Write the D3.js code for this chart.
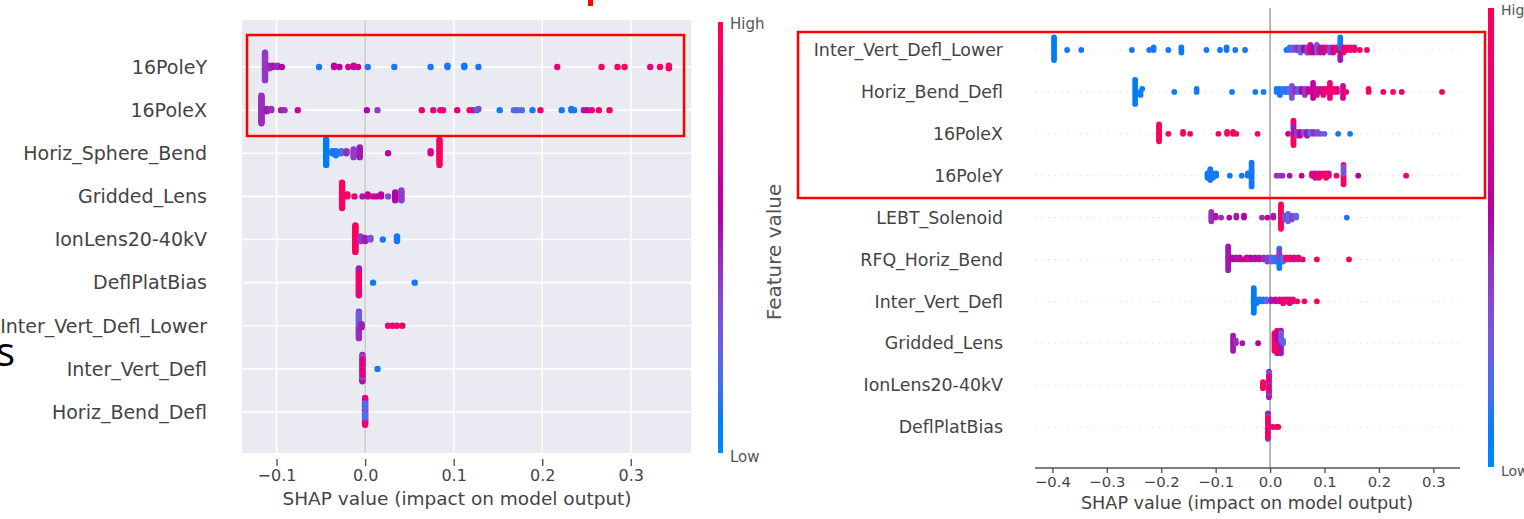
<!DOCTYPE html>
<html>
<head>
<meta charset="utf-8">
<script src="https://cdn.jsdelivr.net/npm/d3@7"></script>
<style>
  body { margin: 0; background: #fff; }
  svg { display: block; font-family: "DejaVu Sans", sans-serif; }
</style>
</head>
<body>
<div id="graf"></div>
<script>
// Datos: cada punto es [valor SHAP, valor de la variable (0 = bajo, 1 = alto), cantidad]

// ---- grafico izquierdo ----
const featuresIzq = ["16PoleY", "16PoleX", "Horiz_Sphere_Bend", "Gridded_Lens", "IonLens20-40kV",
                     "DeflPlatBias", "Inter_Vert_Defl_Lower", "Inter_Vert_Defl", "Horiz_Bend_Defl"]
const ticksIzq = [-0.1, 0.0, 0.1, 0.2, 0.3]

const izq16PoleY = [
  [-0.113, 0.42, 24], [-0.108, 0.45, 3], [-0.104, 0.5, 2], [-0.099, 0.45, 2], [-0.094, 0.55, 1],
  [-0.052, 0.1, 1], [-0.035, 0.6, 2], [-0.029, 0.55, 1], [-0.019, 0.7, 1], [-0.013, 0.65, 2],
  [-0.008, 0.7, 1], [0.003, 0.1, 1], [0.033, 0.1, 1], [0.074, 0.1, 1], [0.093, 0.1, 2],
  [0.112, 0.08, 2], [0.128, 0.1, 1], [0.217, 0.8, 1], [0.267, 0.95, 1], [0.285, 0.9, 1],
  [0.293, 0.95, 1], [0.322, 0.8, 1], [0.333, 0.9, 1], [0.343, 0.95, 3]
]
const izq16PoleX = [
  [-0.117, 0.45, 24], [-0.111, 0.5, 3], [-0.106, 0.45, 2], [-0.095, 0.5, 1], [-0.091, 0.45, 1],
  [-0.076, 0.65, 1], [0.002, 0.6, 1], [0.014, 0.4, 1], [0.064, 0.85, 1], [0.077, 0.8, 1],
  [0.085, 0.75, 1], [0.088, 0.9, 1], [0.104, 0.75, 1], [0.118, 0.9, 1], [0.122, 0.8, 1],
  [0.126, 0.1, 1], [0.128, 0.35, 1], [0.152, 0.1, 1], [0.168, 0.15, 1], [0.172, 0.3, 1],
  [0.177, 0.15, 1], [0.189, 0.1, 1], [0.198, 0.9, 1], [0.222, 0.1, 1], [0.233, 0.1, 2],
  [0.236, 0.1, 1], [0.247, 0.5, 1], [0.251, 0.65, 1], [0.256, 0.75, 1], [0.264, 0.9, 1],
  [0.276, 0.95, 1]
]
const izqHorizSphereBend = [
  [-0.044, 0.08, 14], [-0.037, 0.1, 2], [-0.033, 0.1, 3], [-0.027, 0.15, 2], [-0.021, 0.45, 2],
  [-0.013, 0.4, 5], [-0.006, 0.5, 6], [0.026, 0.6, 1], [0.074, 0.75, 2], [0.084, 0.92, 14]
]
const izqGriddedLens = [
  [-0.026, 0.95, 14], [-0.02, 0.9, 2], [-0.012, 0.85, 1], [-0.003, 0.5, 1], [0.003, 0.65, 2],
  [0.009, 0.7, 1], [0.013, 0.6, 1], [0.018, 0.6, 2], [0.026, 0.35, 1], [0.034, 0.55, 5],
  [0.041, 0.4, 6]
]
const izqIonLens = [
  [-0.011, 0.95, 18], [-0.005, 0.4, 4], [0.0, 0.5, 3], [0.006, 0.3, 2], [0.02, 0.1, 1], [0.036, 0.1, 4]
]
const izqDeflPlatBias = [
  [-0.007, 0.8, 8], [-0.007, 0.5, 8], [-0.007, 0.95, 4], [0.009, 0.1, 1], [0.056, 0.1, 1]
]
const izqInterVertDeflLower = [
  [-0.007, 0.45, 10], [-0.007, 0.25, 8], [-0.004, 0.5, 3], [0.026, 0.9, 1], [0.031, 0.85, 1],
  [0.036, 0.9, 1], [0.042, 0.95, 1]
]
const izqInterVertDefl = [
  [-0.003, 0.5, 8], [-0.003, 0.3, 6], [-0.003, 0.8, 4], [0.014, 0.1, 1]
]
const izqHorizBendDefl = [
  [0.0, 0.9, 10], [0.0, 0.7, 6], [0.0, 0.2, 4]
]
const datosIzq = [izq16PoleY, izq16PoleX, izqHorizSphereBend, izqGriddedLens, izqIonLens,
                  izqDeflPlatBias, izqInterVertDeflLower, izqInterVertDefl, izqHorizBendDefl]

// ---- grafico derecho ----
const featuresDer = ["Inter_Vert_Defl_Lower", "Horiz_Bend_Defl", "16PoleX", "16PoleY", "LEBT_Solenoid",
                     "RFQ_Horiz_Bend", "Inter_Vert_Defl", "Gridded_Lens", "IonLens20-40kV", "DeflPlatBias"]
const ticksDer = [-0.4, -0.3, -0.2, -0.1, 0.0, 0.1, 0.2, 0.3]

const derInterVertDeflLower = [
  [-0.397, 0.08, 10], [-0.373, 0.1, 1], [-0.347, 0.1, 1], [-0.254, 0.1, 1], [-0.222, 0.1, 1],
  [-0.214, 0.1, 2], [-0.187, 0.1, 1], [-0.163, 0.1, 3], [-0.117, 0.1, 1], [-0.092, 0.1, 1],
  [-0.08, 0.1, 2], [-0.064, 0.1, 1], [-0.046, 0.1, 1],
  [0.03, 0.1, 1], [0.036, 0.15, 2], [0.043, 0.3, 2], [0.05, 0.45, 2], [0.056, 0.2, 3],
  [0.062, 0.6, 2], [0.068, 0.4, 3], [0.074, 0.75, 4], [0.08, 0.55, 3], [0.086, 0.3, 4],
  [0.092, 0.8, 3], [0.098, 0.5, 3], [0.104, 0.9, 2], [0.11, 0.35, 3], [0.116, 0.7, 3],
  [0.122, 0.95, 2], [0.129, 0.5, 5], [0.129, 0.1, 5], [0.135, 0.9, 3], [0.141, 0.8, 2],
  [0.148, 0.95, 2], [0.155, 0.85, 2], [0.165, 0.9, 1], [0.178, 0.85, 1]
]
const derHorizBendDefl = [
  [-0.248, 0.08, 9], [-0.238, 0.1, 2], [-0.235, 0.1, 1], [-0.176, 0.1, 1], [-0.135, 0.1, 2],
  [-0.07, 0.1, 1], [-0.027, 0.1, 1], [-0.012, 0.1, 1],
  [0.012, 0.1, 2], [0.018, 0.1, 3], [0.024, 0.15, 2], [0.03, 0.1, 2], [0.035, 0.2, 2],
  [0.04, 0.3, 5], [0.046, 0.45, 2], [0.052, 0.15, 2], [0.058, 0.55, 2], [0.064, 0.4, 3],
  [0.07, 0.7, 2], [0.079, 0.6, 6], [0.086, 0.8, 3], [0.092, 0.5, 2], [0.098, 0.9, 3],
  [0.104, 0.75, 2], [0.11, 0.85, 6], [0.117, 0.95, 2], [0.123, 0.8, 2], [0.134, 0.7, 5],
  [0.14, 0.9, 1], [0.181, 0.95, 2], [0.208, 0.9, 1], [0.226, 0.95, 1], [0.242, 0.8, 1],
  [0.316, 0.95, 1]
]
const der16PoleX = [
  [-0.204, 0.95, 10], [-0.187, 0.95, 1], [-0.16, 0.92, 2], [-0.147, 0.95, 1], [-0.095, 0.9, 1],
  [-0.079, 0.95, 2], [-0.068, 0.9, 2], [-0.062, 0.95, 1], [-0.023, 0.95, 1],
  [0.033, 0.6, 1], [0.043, 0.95, 10], [0.043, 0.5, 4], [0.049, 0.4, 3], [0.055, 0.6, 3],
  [0.062, 0.3, 2], [0.068, 0.5, 3], [0.074, 0.2, 2], [0.08, 0.45, 2], [0.087, 0.3, 2],
  [0.093, 0.35, 1], [0.1, 0.2, 1], [0.125, 0.1, 1], [0.147, 0.1, 1]
]
const der16PoleY = [
  [-0.115, 0.08, 3], [-0.11, 0.1, 6], [-0.105, 0.1, 3], [-0.099, 0.1, 2], [-0.074, 0.1, 1],
  [-0.052, 0.1, 1], [-0.041, 0.1, 2], [-0.034, 0.1, 12],
  [0.012, 0.45, 1], [0.018, 0.4, 1], [0.023, 0.45, 1], [0.036, 0.5, 1], [0.058, 0.6, 1],
  [0.077, 0.85, 2], [0.083, 0.7, 3], [0.09, 0.9, 3], [0.097, 0.75, 2], [0.103, 0.95, 3],
  [0.108, 0.8, 2], [0.122, 0.9, 1], [0.135, 0.95, 6], [0.135, 0.3, 4], [0.162, 0.55, 1],
  [0.25, 0.75, 1]
]
const derLEBTSolenoid = [
  [-0.108, 0.45, 6], [-0.1, 0.5, 2], [-0.09, 0.45, 1], [-0.075, 0.55, 1], [-0.062, 0.5, 2],
  [-0.048, 0.55, 2], [-0.015, 0.45, 1], [-0.005, 0.6, 1], [0.006, 0.5, 2], [0.02, 0.95, 14],
  [0.027, 0.35, 3], [0.033, 0.2, 5], [0.04, 0.4, 3], [0.048, 0.2, 2], [0.141, 0.1, 1]
]
const derRFQHorizBend = [
  [-0.077, 0.5, 12], [-0.07, 0.55, 2], [-0.063, 0.5, 2], [-0.056, 0.65, 2], [-0.05, 0.55, 1],
  [-0.043, 0.7, 2], [-0.036, 0.6, 2], [-0.028, 0.5, 2], [-0.02, 0.7, 2], [-0.012, 0.45, 2],
  [-0.005, 0.4, 3], [0.003, 0.2, 3], [0.01, 0.15, 3], [0.017, 0.1, 6], [0.017, 0.4, 4],
  [0.024, 0.2, 3], [0.03, 0.85, 2], [0.037, 0.9, 2], [0.044, 0.7, 2], [0.052, 0.95, 2],
  [0.06, 0.8, 1], [0.086, 0.95, 1], [0.145, 0.95, 1]
]
const derInterVertDefl = [
  [-0.03, 0.08, 14], [-0.025, 0.1, 3], [-0.019, 0.1, 2], [-0.013, 0.1, 2], [-0.007, 0.2, 2],
  [0.002, 0.5, 2], [0.01, 0.6, 2], [0.017, 0.75, 2], [0.024, 0.85, 3], [0.03, 0.9, 2],
  [0.036, 0.8, 3], [0.042, 0.9, 2], [0.05, 0.95, 1], [0.063, 0.9, 1], [0.086, 0.95, 1]
]
const derGriddedLens = [
  [-0.068, 0.5, 7], [-0.063, 0.45, 2], [-0.051, 0.5, 1], [-0.022, 0.55, 1], [0.008, 0.9, 8],
  [0.013, 0.95, 6], [0.013, 0.6, 4], [0.02, 0.5, 6], [0.02, 0.3, 4], [0.024, 0.2, 2]
]
const derIonLens = [
  [-0.013, 0.95, 5], [-0.002, 0.5, 8], [-0.002, 0.25, 6], [-0.002, 0.8, 4]
]
const derDeflPlatBias = [
  [-0.004, 0.5, 7], [-0.004, 0.25, 6], [-0.004, 0.9, 5], [0.004, 0.85, 1], [0.011, 0.95, 1],
  [0.015, 0.95, 1]
]
const datosDer = [derInterVertDeflLower, derHorizBendDefl, der16PoleX, der16PoleY, derLEBTSolenoid,
                  derRFQHorizBend, derInterVertDefl, derGriddedLens, derIonLens, derDeflPlatBias]

// ---- colores (mapa red_blue de shap, en espacio LCH) ----
const color = (t) => {
  const l = t < 0.5 ? 54 - 28 * t : 40 + 28 * (t - 0.5)
  const c = 70 + 20 * t
  const h = 266.93 + (380.32 - 266.93) * t
  return d3.hcl(h, c, l).formatHex()
}

// Dimensiones
const ancho = 1524
const alto = 519

const svg = d3.select("#graf")
              .append("svg")
              .attr("width", ancho)
              .attr("height", alto)

const defs = svg.append("defs")
const grad = defs.append("linearGradient")
                 .attr("id", "barra")
                 .attr("x1", 0).attr("y1", 1).attr("x2", 0).attr("y2", 0)
grad.selectAll("stop")
    .data(d3.range(0, 1.0001, 0.05))
    .join("stop")
    .attr("offset", d => d)
    .attr("stop-color", d => color(d))

// Beeswarm como en shap: se agrupa por bins y se apila alternando arriba / abajo
const beeswarm = (grupos) => {
  const pts = []
  grupos.forEach((p, g) => {
    for (let k = 0; k < p[2]; k++) pts.push({ v: p[0], c: p[1], g, k })
  })
  const min = d3.min(pts, d => d.v)
  const max = d3.max(pts, d => d.v)
  const nbins = 100
  pts.forEach(d => d.bin = max > min ? Math.round(nbins * (d.v - min) / (max - min)) : 0)
  const orden = pts.slice().sort((a, b) => a.bin - b.bin || a.k - b.k || a.g - b.g)
  let capa = 0
  let ultimo = -1
  orden.forEach(d => {
    if (d.bin !== ultimo) capa = 0
    d.ys = Math.ceil(capa / 2) * ((capa % 2) * 2 - 1)
    capa++
    ultimo = d.bin
  })
  const maxY = d3.max(pts, d => d.ys + 1)
  pts.forEach(d => d.ys *= 0.9 * (0.4 / maxY))
  return pts
}

const dibujar = (cfg) => {
  const g = svg.append("g")
  const x = d3.scaleLinear().domain(cfg.dominio).range([cfg.x0, cfg.x1])
  const y = d3.scalePoint().domain(cfg.features).range([cfg.yTop, cfg.yBot])
  const paso = y.step()

  if (cfg.fondo) {
    // estilo seaborn darkgrid
    g.append("rect")
     .attr("x", cfg.x0).attr("y", cfg.fTop)
     .attr("width", cfg.x1 - cfg.x0).attr("height", cfg.fBot - cfg.fTop)
     .attr("fill", "#eaeaf2")
    g.selectAll(".gx")
     .data(cfg.ticks)
     .join("line")
     .attr("x1", d => x(d)).attr("x2", d => x(d))
     .attr("y1", cfg.fTop).attr("y2", cfg.fBot)
     .attr("stroke", "#fff").attr("stroke-width", 1.6)
    g.selectAll(".gy")
     .data(cfg.features)
     .join("line")
     .attr("x1", cfg.x0).attr("x2", cfg.x1)
     .attr("y1", d => y(d)).attr("y2", d => y(d))
     .attr("stroke", "#fff").attr("stroke-width", 1.6)
  } else {
    g.selectAll(".gy")
     .data(cfg.features)
     .join("line")
     .attr("x1", cfg.x0).attr("x2", cfg.x1)
     .attr("y1", d => y(d)).attr("y2", d => y(d))
     .attr("stroke", "#d4d4d4").attr("stroke-width", 0.8)
     .attr("stroke-dasharray", "1.5,5")
  }

  // linea del cero
  g.append("line")
   .attr("x1", x(0)).attr("x2", x(0))
   .attr("y1", cfg.fTop).attr("y2", cfg.fBot)
   .attr("stroke", cfg.colorCero).attr("stroke-width", 1.4)

  // puntos
  cfg.datos.forEach((grupos, i) => {
    const f = cfg.features[i]
    g.append("g")
     .selectAll("circle")
     .data(beeswarm(grupos))
     .join("circle")
     .attr("cx", d => x(d.v))
     .attr("cy", d => y(f) - d.ys * paso)
     .attr("r", cfg.radio)
     .attr("fill", d => color(d.c))
  })

  // etiquetas de las variables
  g.selectAll(".lab")
   .data(cfg.features)
   .join("text")
   .attr("x", cfg.xLabel)
   .attr("y", d => y(d))
   .attr("dy", "0.36em")
   .attr("text-anchor", "end")
   .attr("font-size", cfg.fLabel)
   .attr("fill", "#444")
   .text(d => d)

  // eje x
  if (cfg.lineaEje) {
    g.append("line")
     .attr("x1", cfg.x0).attr("x2", cfg.x1)
     .attr("y1", cfg.fBot).attr("y2", cfg.fBot)
     .attr("stroke", "#555").attr("stroke-width", 1.3)
  }
  const eje = g.append("g")
               .attr("transform", `translate(0,${cfg.yTick})`)
               .call(d3.axisBottom(x).tickValues(cfg.ticks).tickFormat(d3.format(".1f"))
                       .tickSize(cfg.largoTick).tickPadding(cfg.padTick))
  eje.select(".domain").remove()
  eje.selectAll(".tick line").attr("stroke", "#555").attr("stroke-width", 1.4)
  eje.selectAll(".tick text")
     .attr("font-size", cfg.fTick)
     .attr("font-family", "DejaVu Sans")
     .attr("fill", "#444")

  g.append("text")
   .attr("x", cfg.xTitulo)
   .attr("y", cfg.yTitulo)
   .attr("text-anchor", "middle")
   .attr("font-size", cfg.fTitulo)
   .attr("fill", "#444")
   .text("SHAP value (impact on model output)")

  // barra de color
  g.append("rect")
   .attr("x", cfg.xBarra).attr("y", cfg.bTop)
   .attr("width", cfg.anchoBarra).attr("height", cfg.bBot - cfg.bTop)
   .attr("fill", "url(#barra)")
  g.append("text")
   .attr("x", cfg.xBarra + cfg.anchoBarra + 7).attr("y", cfg.bTop + 7)
   .attr("font-size", cfg.fBarra).attr("fill", "#555")
   .text("High")
  g.append("text")
   .attr("x", cfg.xBarra + cfg.anchoBarra + 7).attr("y", cfg.bBot + 9)
   .attr("font-size", cfg.fBarra).attr("fill", "#555")
   .text("Low")
}

dibujar({
  features: featuresIzq, datos: datosIzq, ticks: ticksIzq,
  dominio: [-0.139, 0.368], x0: 242, x1: 691,
  yTop: 67, yBot: 412, fTop: 20, fBot: 453, fondo: true, colorCero: "#c4c4c8",
  radio: 3.2, xLabel: 207, fLabel: 19,
  lineaEje: false, yTick: 459, largoTick: 7, padTick: 4, fTick: 16,
  xTitulo: 457, yTitulo: 505, fTitulo: 18.5,
  xBarra: 718, anchoBarra: 5, bTop: 22, bBot: 453, fBarra: 15
})

dibujar({
  features: featuresDer, datos: datosDer, ticks: ticksDer,
  dominio: [-0.432, 0.349], x0: 1035, x1: 1460,
  yTop: 50, yBot: 427, fTop: 8, fBot: 468, fondo: false, colorCero: "#999",
  radio: 2.9, xLabel: 1003, fLabel: 17.4,
  lineaEje: true, yTick: 468, largoTick: 5, padTick: 3, fTick: 14.8,
  xTitulo: 1247, yTitulo: 509, fTitulo: 17.6,
  xBarra: 1488, anchoBarra: 6, bTop: 8, bBot: 467, fBarra: 14
})

// etiqueta "Feature value" de la barra izquierda
svg.append("text")
   .attr("transform", "translate(781,252) rotate(-90)")
   .attr("text-anchor", "middle")
   .attr("font-size", 20)
   .attr("fill", "#555")
   .text("Feature value")

// recuadros rojos
svg.append("rect")
   .attr("x", 247).attr("y", 35).attr("width", 437).attr("height", 101)
   .attr("fill", "none").attr("stroke", "#ff0000").attr("stroke-width", 2.5)
svg.append("rect")
   .attr("x", 798).attr("y", 32).attr("width", 687).attr("height", 166)
   .attr("fill", "none").attr("stroke", "#ff0000").attr("stroke-width", 2.5)

// restos de la diapositiva
svg.append("rect")
   .attr("x", 588).attr("y", 0).attr("width", 5).attr("height", 6)
   .attr("fill", "#ff0000")
svg.append("text")
   .attr("x", 15).attr("y", 366)
   .attr("text-anchor", "end")
   .attr("font-family", "Open Sans")
   .attr("font-size", 40)
   .attr("fill", "#000")
   .text("s")
</script>
</body>
</html>
